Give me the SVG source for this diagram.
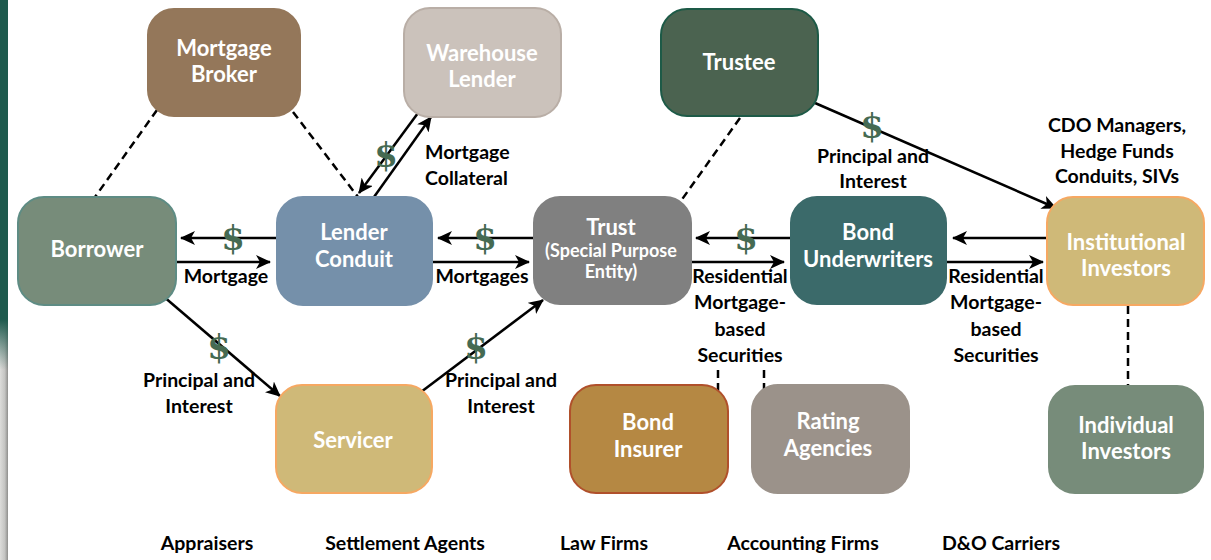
<svg xmlns="http://www.w3.org/2000/svg" width="1211" height="560" viewBox="0 0 1211 560">
  <defs>
    <marker id="arrow" markerUnits="userSpaceOnUse" markerWidth="16" markerHeight="14" refX="14" refY="7" orient="auto">
      <path d="M0,0 L15,7 L0,14 L4,7 z" fill="#000"/>
    </marker>
    <linearGradient id="edgeGrey" x1="0" y1="0" x2="1" y2="0">
      <stop offset="0" stop-color="#dcdcda"/>
      <stop offset="0.6" stop-color="#c4c4c2"/>
      <stop offset="1" stop-color="#8e8e8c"/>
    </linearGradient>
    <linearGradient id="edgeGreen" x1="0" y1="0" x2="0" y2="1">
      <stop offset="0" stop-color="#1e5a4d" stop-opacity="1"/>
      <stop offset="0.57" stop-color="#1e5a4d" stop-opacity="1"/>
      <stop offset="0.66" stop-color="#1e5a4d" stop-opacity="0"/>
    </linearGradient>
    <style>
      .node rect { stroke-width: 2; }
      .nt { font-family: Lato, "Liberation Sans", sans-serif; font-weight: 700; font-size: 22px; fill: #fff; text-anchor: middle; }
      .sub { font-size: 18px; }
      .lbl { font-family: Lato, "Liberation Sans", sans-serif; font-weight: 700; font-size: 19.5px; fill: #000; text-anchor: middle; }
      .left { text-anchor: start; }
      .usd { font-family: "DejaVu Serif", "Liberation Serif", serif; font-weight: 700; font-size: 34px; fill: #456a52; text-anchor: middle; }
      .flow { stroke: #000; stroke-width: 2.5; fill: none; marker-end: url(#arrow); }
      .dash { stroke: #000; stroke-width: 2.5; fill: none; stroke-dasharray: 8 5; }
    </style>
  </defs>

  <rect width="1211" height="560" fill="#fff"/>
  <!-- page edge strip -->
  <rect x="0" y="0" width="8" height="560" fill="url(#edgeGrey)"/>
  <rect x="0" y="0" width="8" height="560" fill="url(#edgeGreen)"/>

  <!-- connectors -->
  <g id="connectors">
    <line class="dash" x1="157" y1="110" x2="95" y2="197"/>
    <line class="dash" x1="293" y1="112" x2="358" y2="197"/>
    <line class="dash" x1="740" y1="118" x2="678" y2="205"/>
    <line class="dash" x1="718" y1="370" x2="718" y2="392"/>
    <line class="dash" x1="764" y1="370" x2="764" y2="392"/>
    <line class="dash" x1="1128" y1="306" x2="1128" y2="385"/>

    <line class="flow" x1="277" y1="238" x2="181" y2="238"/>
    <line class="flow" x1="176" y1="262" x2="270" y2="262"/>
    <line class="flow" x1="533" y1="238" x2="438" y2="238"/>
    <line class="flow" x1="432" y1="262" x2="529" y2="262"/>
    <line class="flow" x1="418" y1="113" x2="359" y2="193"/>
    <line class="flow" x1="374" y1="197" x2="431" y2="117"/>
    <line class="flow" x1="791" y1="238" x2="696" y2="238"/>
    <line class="flow" x1="691" y1="262" x2="784" y2="262"/>
    <line class="flow" x1="1047" y1="238" x2="953" y2="238"/>
    <line class="flow" x1="946" y1="262" x2="1043" y2="262"/>
    <line class="flow" x1="815" y1="103" x2="1056" y2="208"/>
    <line class="flow" x1="163" y1="296" x2="280" y2="396"/>
    <line class="flow" x1="421" y1="392" x2="543" y2="300"/>
  </g>

  <!-- connector labels -->
  <g id="labels">
    <text class="usd" x="233" y="250">$</text>
    <text class="lbl" x="226" y="283">Mortgage</text>
    <text class="usd" x="485" y="250">$</text>
    <text class="lbl" x="482" y="283">Mortgages</text>
    <text class="usd" x="386" y="167">$</text>
    <text class="lbl left" x="425" y="159">Mortgage</text>
    <text class="lbl left" x="425" y="185">Collateral</text>
    <text class="usd" x="746" y="250">$</text>
    <text class="lbl" x="740" y="283">Residential</text>
    <text class="lbl" x="740" y="309">Mortgage-</text>
    <text class="lbl" x="740" y="336">based</text>
    <text class="lbl" x="740" y="362">Securities</text>
    <text class="lbl" x="996" y="283">Residential</text>
    <text class="lbl" x="996" y="309">Mortgage-</text>
    <text class="lbl" x="996" y="336">based</text>
    <text class="lbl" x="996" y="362">Securities</text>
    <text class="usd" x="872" y="138">$</text>
    <text class="lbl" x="873" y="163">Principal and</text>
    <text class="lbl" x="873" y="188">Interest</text>
    <text class="lbl" x="1117" y="132">CDO Managers,</text>
    <text class="lbl" x="1117" y="158">Hedge Funds</text>
    <text class="lbl" x="1117" y="183">Conduits, SIVs</text>
    <text class="usd" x="219" y="359">$</text>
    <text class="lbl" x="199" y="387">Principal and</text>
    <text class="lbl" x="199" y="413">Interest</text>
    <text class="usd" x="476" y="359">$</text>
    <text class="lbl" x="501" y="387">Principal and</text>
    <text class="lbl" x="501" y="413">Interest</text>
  </g>

  <!-- nodes -->
  <g id="mortgage-broker" class="node">
    <rect x="148" y="9" width="152" height="107" rx="26" fill="#94775a" stroke="#94775a"/>
    <text class="nt" x="224" y="56">Mortgage</text>
    <text class="nt" x="224" y="82">Broker</text>
  </g>
  <g id="warehouse-lender" class="node">
    <rect x="404" y="8" width="157" height="109" rx="26" fill="#cbc2bb" stroke="#b9aea6"/>
    <text class="nt" x="482" y="61">Warehouse</text>
    <text class="nt" x="482" y="87">Lender</text>
  </g>
  <g id="trustee" class="node">
    <rect x="661" y="9" width="157" height="107" rx="26" fill="#4b6350" stroke="#1d5a47"/>
    <text class="nt" x="739" y="70">Trustee</text>
  </g>
  <g id="borrower" class="node">
    <rect x="18" y="197" width="158" height="108" rx="26" fill="#778c7a" stroke="#5e8c84"/>
    <text class="nt" x="97" y="257">Borrower</text>
  </g>
  <g id="lender-conduit" class="node">
    <rect x="277" y="197" width="155" height="108" rx="26" fill="#7590aa" stroke="#7590aa"/>
    <text class="nt" x="354" y="240">Lender</text>
    <text class="nt" x="354" y="267">Conduit</text>
  </g>
  <g id="trust" class="node">
    <rect x="534" y="197" width="157" height="107" rx="26" fill="#808080" stroke="#808080"/>
    <text class="nt" x="611" y="235">Trust</text>
    <text class="nt sub" x="611" y="257">(Special Purpose</text>
    <text class="nt sub" x="611" y="278">Entity)</text>
  </g>
  <g id="bond-underwriters" class="node">
    <rect x="791" y="197" width="155" height="107" rx="26" fill="#3b6a6a" stroke="#3b6a6a"/>
    <text class="nt" x="868" y="240">Bond</text>
    <text class="nt" x="868" y="267">Underwriters</text>
  </g>
  <g id="institutional-investors" class="node">
    <rect x="1047" y="197" width="157" height="108" rx="26" fill="#cfb978" stroke="#f6a862" stroke-width="2.5"/>
    <text class="nt" x="1126" y="250">Institutional</text>
    <text class="nt" x="1126" y="276">Investors</text>
  </g>
  <g id="servicer" class="node">
    <rect x="276" y="385" width="156" height="108" rx="26" fill="#cfb978" stroke="#f6a862" stroke-width="2.5"/>
    <text class="nt" x="353" y="448">Servicer</text>
  </g>
  <g id="bond-insurer" class="node">
    <rect x="570" y="385" width="158" height="108" rx="26" fill="#b58843" stroke="#b0502b"/>
    <text class="nt" x="648" y="430">Bond</text>
    <text class="nt" x="648" y="457">Insurer</text>
  </g>
  <g id="rating-agencies" class="node">
    <rect x="752" y="385" width="157" height="108" rx="26" fill="#9b928a" stroke="#9b928a"/>
    <text class="nt" x="828" y="429">Rating</text>
    <text class="nt" x="828" y="456">Agencies</text>
  </g>
  <g id="individual-investors" class="node">
    <rect x="1049" y="386" width="154" height="107" rx="26" fill="#778c7a" stroke="#778c7a"/>
    <text class="nt" x="1126" y="433">Individual</text>
    <text class="nt" x="1126" y="459">Investors</text>
  </g>

  <!-- other participants -->
  <g id="others">
    <text class="lbl" x="207" y="550">Appraisers</text>
    <text class="lbl" x="405" y="550">Settlement Agents</text>
    <text class="lbl" x="604" y="550">Law Firms</text>
    <text class="lbl" x="803" y="550">Accounting Firms</text>
    <text class="lbl" x="1001" y="550">D&amp;O Carriers</text>
  </g>
</svg>
